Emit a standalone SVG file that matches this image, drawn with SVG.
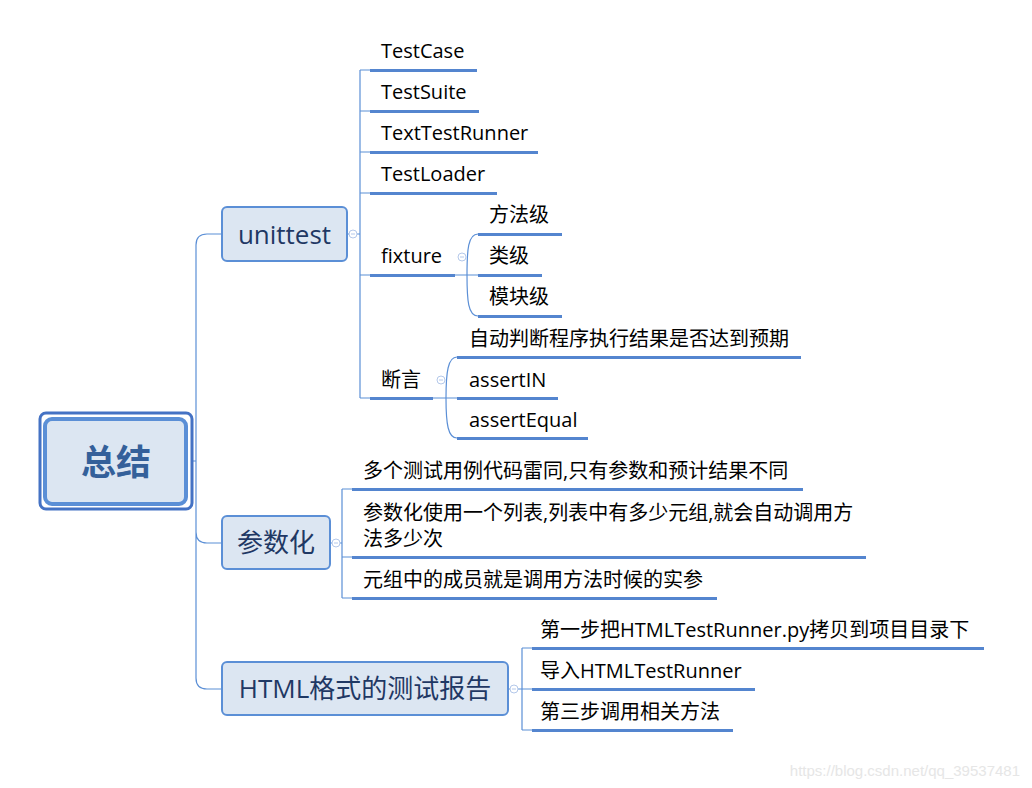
<svg xmlns="http://www.w3.org/2000/svg" width="1032" height="788" viewBox="0 0 1032 788">
<style>
.t{font-family:"Open Sans","Noto Sans CJK SC",sans-serif;font-size:20px;fill:#000}
.bt{font-family:"Open Sans","Noto Sans CJK SC",sans-serif;font-size:26px;fill:#1F3864}
.box{fill:#DCE6F2;stroke:#5B8FD6;stroke-width:2}
.ln{fill:none;stroke:#5B8FD6;stroke-width:1.2}
.ul{stroke:#5485CF;stroke-width:3}
.cc{fill:#fff;stroke:#B4C8EA;stroke-width:1}
.cm{stroke:#B4C8EA;stroke-width:1}
</style>
<rect width="1032" height="788" fill="#fff"/>
<g id="connectors">
<path class="ln" d="M193,461 H196 M196,245 Q196,234 207,234 H222 M196,245 V678 Q196,689 207,689 H222 M196,532 Q196,543 207,543 H222"/>
<path class="ln" d="M347,234 H360 M360,70 V398 M360,70 H370 M360,111 H370 M360,152 H370 M360,193 H370 M360,275 H370 M360,398 H370"/>
<path class="ln" d="M455,275 H478 M467,275 C467,250 468,234 478,234 M467,275 C467,300 468,316 478,316"/>
<path class="ln" d="M433,398 H457 M446,398 C446,372 448,357 457,357 M446,398 C446,424 448,438 457,438"/>
<path class="ln" d="M330,543 H342 M342,489 V598 M342,489 H352 M342,557 H352 M342,598 H352"/>
<path class="ln" d="M508,689 H522 M522,648 V730 M522,648 H532 M522,689 H532 M522,730 H532"/>
</g>
<g id="root">
<rect x="40" y="413" width="152" height="96" rx="6" fill="none" stroke="#4472C4" stroke-width="3"/>
<rect x="45" y="419" width="141" height="85" rx="7" fill="#DCE6F2" stroke="#5B8FD6" stroke-width="4"/>
<text x="116" y="475" text-anchor="middle" font-family="'Noto Sans CJK SC',sans-serif" font-size="35" font-weight="bold" fill="#34609A">总结</text>
</g>
<g id="unittest">
<rect class="box" x="222" y="207" width="125" height="54" rx="5"/>
<text class="bt" x="284.5" y="244" text-anchor="middle">unittest</text>
<circle class="cc" cx="353" cy="234" r="4"/><path class="cm" d="M351,234 H355"/>
</g>
<g id="testcase"><line class="ul" x1="370" y1="70.5" x2="477" y2="70.5"/><text class="t" x="381" y="58">TestCase</text></g>
<g id="testsuite"><line class="ul" x1="370" y1="111.5" x2="479" y2="111.5"/><text class="t" x="381" y="99">TestSuite</text></g>
<g id="texttestrunner"><line class="ul" x1="370" y1="152.5" x2="538" y2="152.5"/><text class="t" x="381" y="140">TextTestRunner</text></g>
<g id="testloader"><line class="ul" x1="370" y1="193.5" x2="497" y2="193.5"/><text class="t" x="381" y="181">TestLoader</text></g>
<g id="fixture"><line class="ul" x1="370" y1="275.5" x2="455" y2="275.5"/><text class="t" x="381" y="263">fixture</text>
<circle class="cc" cx="462" cy="257" r="4"/><path class="cm" d="M460,257 H464"/></g>
<g id="method"><line class="ul" x1="478" y1="234.5" x2="562" y2="234.5"/><text class="t" x="489" y="222">方法级</text></g>
<g id="class"><line class="ul" x1="478" y1="275.5" x2="542" y2="275.5"/><text class="t" x="489" y="263">类级</text></g>
<g id="module"><line class="ul" x1="478" y1="316.5" x2="562" y2="316.5"/><text class="t" x="489" y="304">模块级</text></g>
<g id="assert"><line class="ul" x1="370" y1="398.5" x2="433" y2="398.5"/><text class="t" x="381" y="387">断言</text>
<circle class="cc" cx="441" cy="380" r="4"/><path class="cm" d="M439,380 H443"/></g>
<g id="assert-desc"><line class="ul" x1="457" y1="357.5" x2="801" y2="357.5"/><text class="t" x="469" y="346">自动判断程序执行结果是否达到预期</text></g>
<g id="assertin"><line class="ul" x1="457" y1="398.5" x2="558" y2="398.5"/><text class="t" x="469" y="387">assertIN</text></g>
<g id="assertequal"><line class="ul" x1="457" y1="438.5" x2="588" y2="438.5"/><text class="t" x="469" y="427">assertEqual</text></g>
<g id="param">
<rect class="box" x="222" y="516" width="108" height="53" rx="5"/>
<text class="bt" x="276" y="552" text-anchor="middle">参数化</text>
<circle class="cc" cx="336" cy="543" r="4"/><path class="cm" d="M334,543 H338"/>
</g>
<g id="param1"><line class="ul" x1="352" y1="489.5" x2="803" y2="489.5"/><text class="t" x="363" y="478">多个测试用例代码雷同,只有参数和预计结果不同</text></g>
<g id="param2"><line class="ul" x1="352" y1="557.5" x2="866" y2="557.5"/><text class="t" x="363" y="520">参数化使用一个列表,列表中有多少元组,就会自动调用方</text><text class="t" x="363" y="546">法多少次</text></g>
<g id="param3"><line class="ul" x1="352" y1="598.5" x2="717" y2="598.5"/><text class="t" x="363" y="587">元组中的成员就是调用方法时候的实参</text></g>
<g id="html">
<rect class="box" x="222" y="662" width="286" height="53" rx="5"/>
<text class="bt" x="365" y="698" text-anchor="middle">HTML格式的测试报告</text>
<circle class="cc" cx="514" cy="689" r="4"/><path class="cm" d="M512,689 H516"/>
</g>
<g id="html1"><line class="ul" x1="532" y1="648.5" x2="984" y2="648.5"/><text class="t" x="540" y="637">第一步把HTMLTestRunner.py拷贝到项目目录下</text></g>
<g id="html2"><line class="ul" x1="532" y1="689.5" x2="755" y2="689.5"/><text class="t" x="540" y="678">导入HTMLTestRunner</text></g>
<g id="html3"><line class="ul" x1="532" y1="730.5" x2="733" y2="730.5"/><text class="t" x="540" y="719">第三步调用相关方法</text></g>
<text x="1020" y="776" text-anchor="end" font-family="'Liberation Sans',sans-serif" font-size="15" fill="#E6E6E6">https://blog.csdn.net/qq_39537481</text>
</svg>
